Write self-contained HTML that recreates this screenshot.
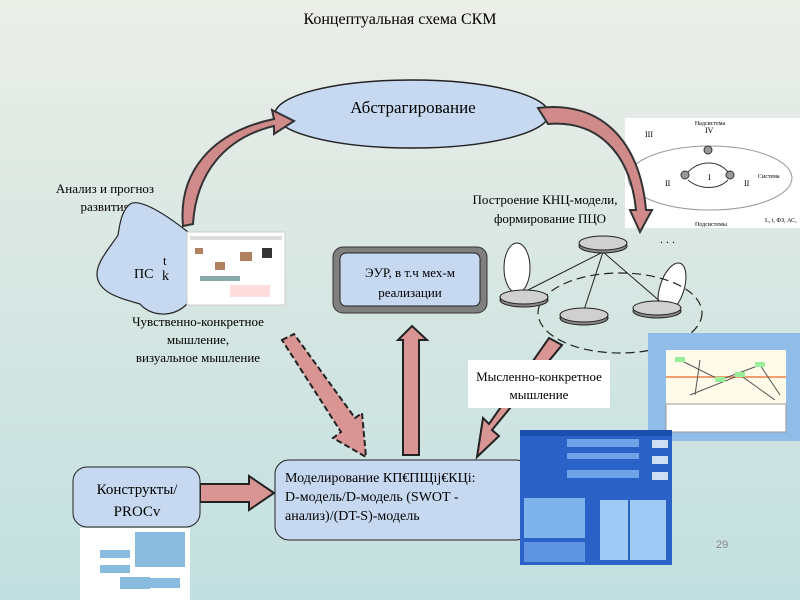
<!DOCTYPE html><html><head><meta charset="utf-8"><style>
body{margin:0;width:800px;height:600px;overflow:hidden;font-family:"Liberation Serif",serif;}
</style></head><body>
<svg width="800" height="600" xmlns="http://www.w3.org/2000/svg" font-family="Liberation Serif, serif">
<defs><linearGradient id="bg" x1="0" y1="0" x2="0" y2="1"><stop offset="0" stop-color="#eceee8"/><stop offset="0.5" stop-color="#d6e6e2"/><stop offset="1" stop-color="#c2e0e0"/></linearGradient></defs>
<rect width="800" height="600" fill="url(#bg)"/>
<text x="400" y="24" font-size="16" text-anchor="middle">Концептуальная схема СКМ</text>
<!-- right image -->
<rect x="625" y="118" width="175" height="110" fill="#fff"/>
<ellipse cx="710" cy="178" rx="82" ry="32" fill="none" stroke="#999"/>
<circle cx="708" cy="150" r="4" fill="#999" stroke="#333"/><circle cx="685" cy="175" r="4" fill="#999" stroke="#333"/><circle cx="730" cy="175" r="4" fill="#999" stroke="#333"/>
<path d="M688,172 C700,160 718,160 728,172 M688,180 C700,190 718,190 728,180" stroke="#333" fill="none"/>
<text x="710" y="125" font-size="6" text-anchor="middle">Надсистема</text><text x="705" y="133" font-size="8">IV</text><text x="645" y="137" font-size="8">III</text><text x="708" y="180" font-size="8">I</text><text x="665" y="186" font-size="8">II</text><text x="744" y="186" font-size="8">II</text><text x="758" y="178" font-size="6">Система</text><text x="765" y="222" font-size="6">L, t, ФЗ, АС,</text><text x="695" y="226" font-size="6">Подсистемы</text>
<ellipse cx="412" cy="114" rx="137" ry="34" fill="#c6d9f1" stroke="#222" stroke-width="1.5"/>
<text x="413" y="113" font-size="17" text-anchor="middle">Абстрагирование</text>
<!-- curved arrows -->
<path d="M183,226 C178,172 212,132 274,119 L272,110 L294,121 L274,134 L274,126 C224,138 196,174 193,224 Z" fill="#d08a8a" stroke="#333" stroke-width="2"/>
<path d="M538,108 C600,100 640,140 646,210 L652,210 L640,232 L630,210 L636,210 C630,150 595,120 548,124 Z" fill="#d08a8a" stroke="#333" stroke-width="2"/>
<text x="105" y="193" font-size="13" text-anchor="middle">Анализ и прогноз</text>
<text x="105" y="211" font-size="13" text-anchor="middle">развития</text>
<path d="M128,206 C135,196 160,210 188,232 L190,300 C178,318 152,318 140,304 C118,298 98,292 97,275 C96,262 112,245 118,235 C120,222 122,212 128,206 Z" fill="#c6d9f1" stroke="#222" stroke-width="1.2"/>
<text x="134" y="278" font-size="14">ПС</text><text x="163" y="265" font-size="13">t</text><text x="162" y="280" font-size="14">k</text>
<rect x="187" y="232" width="98" height="73" fill="#fff" stroke="#ccc"/>
<rect x="190" y="236" width="92" height="4" fill="#ddd"/>
<g fill="#b08060"><rect x="195" y="248" width="8" height="6"/><rect x="215" y="262" width="10" height="8"/><rect x="240" y="252" width="12" height="9"/><rect x="262" y="248" width="10" height="10" fill="#333"/><rect x="200" y="276" width="40" height="5" fill="#8aa"/><rect x="230" y="285" width="40" height="12" fill="#fdd"/></g>
<text x="198" y="326" font-size="13" text-anchor="middle">Чувственно-конкретное</text>
<text x="198" y="344" font-size="13" text-anchor="middle">мышление,</text>
<text x="198" y="362" font-size="13" text-anchor="middle">визуальное мышление</text>
<!-- ЭУР -->
<rect x="333" y="247" width="154" height="66" rx="10" fill="#7f7f7f" stroke="#333"/>
<rect x="340" y="253" width="140" height="53" rx="6" fill="#c6d9f1" stroke="#222"/>
<text x="410" y="277" font-size="13" text-anchor="middle">ЭУР, в т.ч мех-м</text>
<text x="410" y="297" font-size="13" text-anchor="middle">реализации</text>
<text x="545" y="204" font-size="13" text-anchor="middle">Построение КНЦ-модели,</text>
<text x="550" y="223" font-size="13" text-anchor="middle">формирование  ПЦО</text>
<text x="660" y="243" font-size="12">. . .</text>
<!-- network -->
<g stroke="#222" fill="#fff"><ellipse cx="517" cy="268" rx="13" ry="25"/><ellipse cx="672" cy="288" rx="12" ry="26" transform="rotate(18 672 288)"/></g>
<g stroke="#222"><line x1="603" y1="252" x2="528" y2="290"/><line x1="603" y1="252" x2="584" y2="310"/><line x1="603" y1="252" x2="662" y2="303"/></g>
<ellipse cx="620" cy="313" rx="82" ry="40" fill="none" stroke="#222" stroke-dasharray="9,5" stroke-width="1.2"/>
<g stroke="#222"><g fill="#888"><ellipse cx="603" cy="246" rx="24" ry="7"/><ellipse cx="524" cy="300" rx="24" ry="7"/><ellipse cx="584" cy="318" rx="24" ry="7"/><ellipse cx="657" cy="311" rx="24" ry="7"/></g>
<g fill="#d0d0d0"><ellipse cx="603" cy="243" rx="24" ry="7"/><ellipse cx="524" cy="297" rx="24" ry="7"/><ellipse cx="584" cy="315" rx="24" ry="7"/><ellipse cx="657" cy="308" rx="24" ry="7"/></g></g>
<rect x="648" y="333" width="152" height="108" fill="#8fbde8"/><rect x="666" y="350" width="120" height="82" fill="#fffbe8"/>
<rect x="666" y="404" width="120" height="28" fill="#fff" stroke="#999"/>
<line x1="666" y1="377" x2="786" y2="377" stroke="#f0a070" stroke-width="2"/>
<g stroke="#555" fill="none"><path d="M680,360 L720,380 L760,365 L780,395 M690,395 L740,375 L775,400 M700,360 L695,395"/></g>
<g fill="#9e9"><rect x="675" y="357" width="10" height="5"/><rect x="715" y="377" width="10" height="5"/><rect x="755" y="362" width="10" height="5"/><rect x="735" y="372" width="10" height="5"/></g>
<!-- straight arrows -->
<g fill="#d99494" stroke="#222" stroke-width="2">
<path d="M282,340 L294,334 L355,418 L362,413 L366,457 L333,438 L341,432 Z" stroke-dasharray="6,3"/>
<path d="M403,455 L403,340 L398,340 L412,326 L427,340 L419,340 L419,455 Z"/>
<path d="M549,338 L562,345 L492,430 L499,436 L477,457 L483,418 L489,424 Z"/>
<path d="M200,484 L249,484 L249,476 L274,493 L249,510 L249,502 L200,502 Z"/>
</g>
<rect x="468" y="360" width="142" height="48" fill="#fff"/>
<text x="539" y="381" font-size="13" text-anchor="middle">Мысленно-конкретное</text>
<text x="539" y="399" font-size="13" text-anchor="middle">мышление</text>
<rect x="73" y="467" width="127" height="60" rx="14" fill="#c6d9f1" stroke="#222"/>
<text x="137" y="494" font-size="15" text-anchor="middle">Конструкты/</text>
<text x="137" y="516" font-size="15" text-anchor="middle">PROCv</text>
<rect x="80" y="528" width="110" height="72" fill="#fff"/>
<g fill="#8bd"><rect x="135" y="532" width="50" height="35"/><rect x="100" y="550" width="30" height="8"/><rect x="100" y="565" width="30" height="8"/><rect x="120" y="577" width="30" height="12"/><rect x="150" y="578" width="30" height="10"/></g>
<rect x="275" y="460" width="255" height="80" rx="14" fill="#c6d9f1" stroke="#222"/>
<text x="285" y="482" font-size="14">Моделирование КП€ПЩij€КЦi:</text>
<text x="285" y="501" font-size="14">D-модель/D-модель (SWOT -</text>
<text x="285" y="520" font-size="14">анализ)/(DT-S)-модель</text>
<rect x="520" y="430" width="152" height="135" fill="#2a62c8"/>
<rect x="520" y="430" width="152" height="6" fill="#1a4fb0"/>
<rect x="567" y="439" width="72" height="8" fill="#6fa3e8"/><rect x="567" y="453" width="72" height="6" fill="#6fa3e8"/><rect x="567" y="470" width="72" height="8" fill="#6fa3e8"/>
<rect x="652" y="440" width="16" height="8" fill="#cfe0f5"/><rect x="652" y="456" width="16" height="8" fill="#cfe0f5"/><rect x="652" y="472" width="16" height="8" fill="#cfe0f5"/>
<rect x="524" y="498" width="61" height="40" fill="#7fb3ec"/><rect x="524" y="542" width="61" height="20" fill="#5f95e0"/>
<rect x="600" y="500" width="28" height="60" fill="#9fcaf5"/><rect x="630" y="500" width="36" height="60" fill="#9fcaf5"/>
<text x="716" y="548" font-size="11" fill="#888" font-family="Liberation Sans, sans-serif">29</text>
</svg>
</body></html>
